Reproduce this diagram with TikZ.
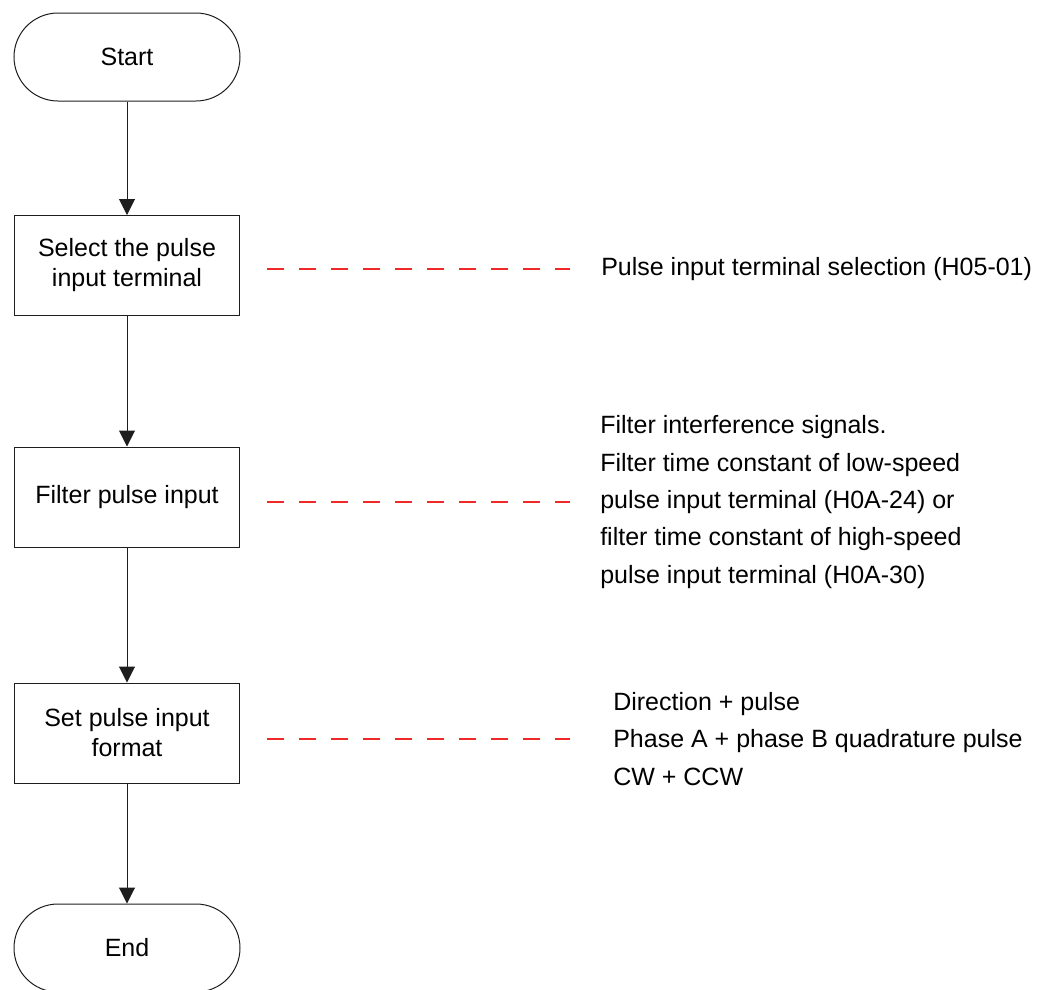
\documentclass[tikz,border=0pt]{standalone}
\usepackage{fontspec}
\setmainfont{Liberation Sans}
\usetikzlibrary{arrows.meta}
\definecolor{dashred}{RGB}{240,40,40}
\definecolor{linegray}{RGB}{30,30,30}
\begin{document}
\begin{tikzpicture}[x=0.75pt,y=-0.75pt,
 term/.style={draw=linegray, line width=0.75pt, minimum width=169.5pt, minimum height=66pt, rounded corners=33pt, inner sep=0pt, font=\fontsize{18.75pt}{22.5pt}\selectfont},
 proc/.style={draw=linegray, line width=0.75pt, minimum width=168.75pt, minimum height=75pt, align=center, inner sep=0pt, font=\fontsize{18.75pt}{22.5pt}\selectfont},
 note/.style={anchor=west, inner sep=0pt, align=left, font=\fontsize{18.75pt}{28.1pt}\selectfont},
 flow/.style={draw=linegray, line width=0.75pt, -{Triangle[length=12pt,width=12pt]}},
 dashline/.style={draw=dashred, line width=1pt, dash pattern=on 12.75pt off 11.25pt}
]
\useasboundingbox (0,0) rectangle (1048,989);
\node[term] (start) at (127,57) {Start};
\node[proc] (b1) at (127,265.5) {Select the pulse\\input terminal};
\node[proc] (b2) at (127,497) {Filter pulse input};
\node[proc] (b3) at (127,733) {Set pulse input\\format};
\node[term] (end) at (127,948) {End};

\node[note] (t1) at (601,269) {Pulse input terminal selection (H05-01)};
\node[note] (t2) at (600,502) {Filter interference signals.\\Filter time constant of low-speed\\pulse input terminal (H0A-24) or\\filter time constant of high-speed\\pulse input terminal (H0A-30)};
\node[note] (t3) at (613,739) {Direction + pulse\\Phase A + phase B quadrature pulse\\CW + CCW};

\draw[flow] (start) -- (b1);
\draw[flow] (b1) -- (b2);
\draw[flow] (b2) -- (b3);
\draw[flow] (b3) -- (end);

\draw[dashline] ([xshift=20.25pt]b1.east |- t1.west) -- ([xshift=-23.25pt]t1.west);
\draw[dashline] ([xshift=20.25pt]b2.east |- t2.west) -- ([xshift=-22.5pt]t2.west);
\draw[dashline] ([xshift=20.25pt]b3.east |- t3.west) -- ([xshift=-32.25pt]t3.west);
\end{tikzpicture}
\end{document}
